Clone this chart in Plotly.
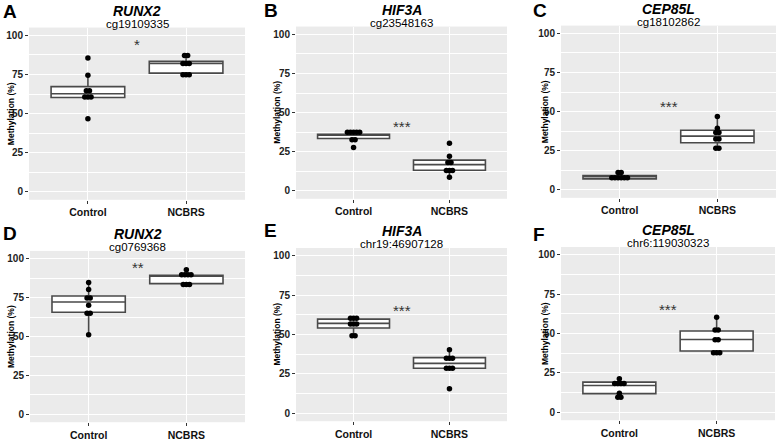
import plotly.graph_objects as go

# ---------------- data ----------------
categories = ["Control", "NCBRS"]
panel_letters = ["A", "B", "C", "D", "E", "F"]
genes = ["RUNX2", "HIF3A", "CEP85L", "RUNX2", "HIF3A", "CEP85L"]
probes = ["cg19109335", "cg23548163", "cg18102862", "cg0769368", "chr19:46907128", "chr6:119030323"]
stars = ["*", "***", "***", "**", "***", "***"]
star_y = [97, 44, 56, 97, 68, 68]
y_ticks = [0, 25, 50, 75, 100]

# dot values (methylation %)
ctrl_A = [85.5, 74.6, 64.6, 64.6, 60.6, 60.6, 60.6, 46.7]
ncbrs_A = [87.2, 87.2, 82.0, 82.0, 82.0, 74.8, 74.8, 74.8]
ctrl_B = [37.5, 37.5, 37.5, 37.5, 37.5, 32.7, 32.7, 27.7]
ncbrs_B = [30.4, 22.2, 18.2, 18.2, 13.0, 13.0, 13.0, 8.8]
ctrl_C = [11.1, 11.1, 7.8, 7.8, 7.8, 7.8, 7.8, 7.8]
ncbrs_C = [47.0, 39.4, 36.7, 36.7, 32.5, 32.5, 26.6, 26.6]
ctrl_D = [84.8, 80.2, 74.7, 74.7, 70.1, 65.0, 65.0, 51.1]
ncbrs_D = [93.0, 89.7, 89.7, 89.7, 89.7, 83.5, 83.5, 83.5]
ctrl_E = [60.4, 60.4, 60.4, 56.7, 56.7, 56.7, 49.2, 49.2]
ncbrs_E = [40.4, 35.0, 35.0, 35.0, 28.6, 28.6, 28.6, 15.6]
ctrl_F = [21.4, 18.3, 18.3, 18.3, 18.3, 12.1, 9.6, 9.6]
ncbrs_F = [60.4, 52.3, 52.3, 46.1, 46.1, 37.9, 37.9, 37.9]

# box stats: [lower whisker, q1, median, q3, upper whisker]
box_ctrl_A = [60.3, 60.3, 62.7, 67.3, 74.6]
box_ncbrs_A = [75.9, 75.9, 82.0, 83.4, 87.2]
box_ctrl_B = [32.7, 33.5, 35.9, 36.2, 37.5]
box_ncbrs_B = [8.8, 13.2, 16.8, 19.7, 22.2]
box_ctrl_C = [7.1, 7.1, 8.8, 9.2, 11.1]
box_ncbrs_C = [26.6, 30.2, 34.4, 38.2, 47.0]
box_ctrl_D = [51.1, 65.6, 72.2, 76.1, 84.8]
box_ncbrs_D = [84.0, 84.0, 89.0, 89.4, 93.0]
box_ctrl_E = [49.2, 54.2, 57.1, 59.8, 60.4]
box_ncbrs_E = [28.6, 28.6, 31.7, 35.4, 40.4]
box_ctrl_F = [9.6, 11.9, 17.1, 19.2, 21.4]
box_ncbrs_F = [37.9, 39.0, 46.3, 51.7, 60.4]

dots = [(ctrl_A, ncbrs_A), (ctrl_B, ncbrs_B), (ctrl_C, ncbrs_C),
        (ctrl_D, ncbrs_D), (ctrl_E, ncbrs_E), (ctrl_F, ncbrs_F)]
boxes = [(box_ctrl_A, box_ncbrs_A), (box_ctrl_B, box_ncbrs_B), (box_ctrl_C, box_ncbrs_C),
         (box_ctrl_D, box_ncbrs_D), (box_ctrl_E, box_ncbrs_E), (box_ctrl_F, box_ncbrs_F)]

# ---------------- layout (pixels) ----------------
W, H = 778, 441
# plot areas: (x0, x1, y0_top, y1_bottom)
areas = [(29, 245, 28, 203), (296, 507, 27, 202), (561, 776, 26, 201),
         (30, 245, 255, 429), (296, 507, 252, 428), (561, 775, 251, 427)]
letter_pos = [(1, 12), (262, 11), (531, 11), (1, 237), (262, 234), (531, 238)]
ytitle_x = [10.5, 277, 544.5, 10.5, 277, 544.5]

FONT = "Liberation Sans, Arial, sans-serif"
DOT_STEP = 0.032

def stacked_offsets(vals):
    counts = {}
    for v in vals:
        counts[v] = counts.get(v, 0) + 1
    seen = {}
    offs = []
    for v in vals:
        k = counts[v]
        i = seen.get(v, 0)
        seen[v] = i + 1
        offs.append((i - (k - 1) / 2) * DOT_STEP)
    return offs

fig = go.Figure()
annotations = []
layout_axes = {}

for p in range(6):
    ax = "" if p == 0 else str(p + 1)
    xa, ya = "x" + ax, "y" + ax
    x0, x1, yt, yb = areas[p]
    layout_axes["xaxis" + ax] = dict(
        domain=[x0 / W, x1 / W], anchor=ya, range=[0.4, 2.6],
        tickvals=[1, 2], ticktext=categories, showgrid=True, gridcolor="white",
        gridwidth=1.2, zeroline=False, ticks="outside", ticklen=3, tickcolor="#333333",
        tickfont=dict(family=FONT, size=10.5, color="#111111", weight="bold"),
        showline=False, fixedrange=True)
    layout_axes["yaxis" + ax] = dict(
        domain=[1 - yb / H, 1 - yt / H], anchor=xa, range=[-5, 105],
        tickvals=y_ticks, ticktext=[str(t) for t in y_ticks], showgrid=True,
        gridcolor="white", gridwidth=1.2, zeroline=False, ticks="outside",
        ticklen=3, tickcolor="#333333",
        tickfont=dict(family=FONT, size=10, color="#222222", weight="bold"),
        minor=dict(tickvals=[12.5, 37.5, 62.5, 87.5], showgrid=True,
                   gridcolor="white", gridwidth=0.6, ticks=""),
        showline=False, fixedrange=True)

    for gi in range(2):
        b = boxes[p][gi]
        fig.add_trace(go.Box(
            x=[gi + 1], lowerfence=[b[0]], q1=[b[1]], median=[b[2]], q3=[b[3]],
            upperfence=[b[4]], width=0.75, whiskerwidth=0, boxpoints=False,
            fillcolor="white", line=dict(color="#4a4a4a", width=1.6),
            xaxis=xa, yaxis=ya, showlegend=False, hoverinfo="skip"))
        vals = dots[p][gi]
        offs = stacked_offsets(vals)
        fig.add_trace(go.Scatter(
            x=[gi + 1 + o for o in offs], y=vals, mode="markers",
            marker=dict(color="black", size=5.5, line=dict(width=0)),
            xaxis=xa, yaxis=ya, showlegend=False, hoverinfo="skip"))

    cx = (x0 + x1) / 2
    annotations.append(dict(text="<b><i>" + genes[p] + "</i></b>", x=cx / W, y=1 - (yt - 17) / H,
                            xref="paper", yref="paper", xanchor="center", yanchor="middle",
                            showarrow=False, borderpad=0,
                            font=dict(family=FONT, size=14, color="black")))
    annotations.append(dict(text=probes[p], x=cx / W, y=1 - (yt - 3.6) / H,
                            xref="paper", yref="paper", xanchor="center", yanchor="middle",
                            showarrow=False, borderpad=0,
                            font=dict(family=FONT, size=11.5, color="black")))
    lx, ly = letter_pos[p]
    annotations.append(dict(text="<b>" + panel_letters[p] + "</b>", x=lx / W, y=1 - ly / H,
                            xref="paper", yref="paper", xanchor="left", yanchor="middle",
                            showarrow=False, font=dict(family=FONT, size=19, color="black")))
    annotations.append(dict(text="<b>Methylation (%)</b>", x=ytitle_x[p] / W,
                            y=1 - ((yt + yb) / 2) / H, xref="paper", yref="paper",
                            xanchor="center", yanchor="middle", textangle=-90,
                            showarrow=False, font=dict(family=FONT, size=8.5, color="black")))
    annotations.append(dict(text=stars[p], x=1.5, y=star_y[p], xref=xa, yref=ya,
                            xanchor="center", yanchor="middle", yshift=-4,
                            showarrow=False, font=dict(family=FONT, size=15, color="#333333")))

fig.update_layout(
    width=W, height=H, margin=dict(l=0, r=0, t=0, b=0),
    paper_bgcolor="white", plot_bgcolor="#EBEBEB",
    annotations=annotations, **layout_axes)

fig.write_html("out.html", config={"displayModeBar": False},
               post_script="document.body.style.margin='0px';document.body.style.padding='0px';document.body.style.overflow='hidden';")
